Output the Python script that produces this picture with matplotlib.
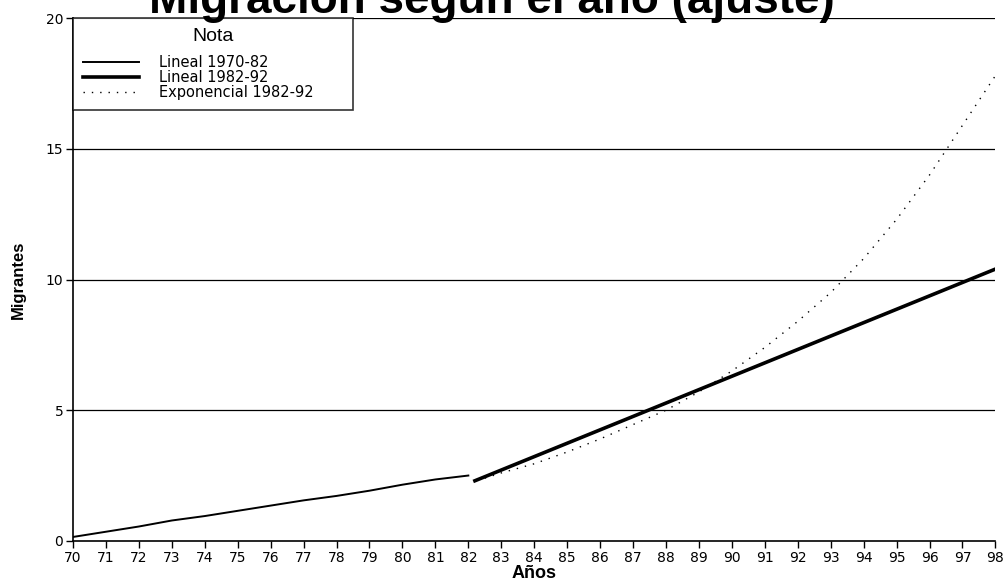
import matplotlib.pyplot as plt

# datos
anios_70_82 = [70, 71, 72, 73, 74, 75, 76, 77, 78, 79, 80, 81, 82]
lineal_70_82 = [0.15, 0.35, 0.55, 0.78, 0.95, 1.15, 1.35, 1.55, 1.72, 1.92, 2.15, 2.35, 2.5]

anios_lin_82_92 = [82.2, 98]
lineal_82_92 = [2.3, 10.4]

anios_exp = [82.5, 83, 84, 85, 86, 87, 88, 89, 90, 91, 92, 93, 94, 95, 96, 97, 98]
exponencial_82_92 = [2.4, 2.6, 2.95, 3.4, 3.9, 4.45, 5.0, 5.7, 6.5, 7.4, 8.4, 9.5, 10.8, 12.3, 14.0, 15.9, 17.8]

ticks_x = list(range(70, 99))
ticks_y = [0, 5, 10, 15, 20]

plt.rcParams['font.family'] = ['Liberation Sans', 'DejaVu Sans']

fig = plt.figure(figsize=(10.07, 5.86), dpi=100)
ax = fig.add_axes([0.0725, 0.077, 0.916, 0.892])

for y in ticks_y[1:]:
    ax.axhline(y, color='black', lw=0.9, zorder=1)

ax.plot(anios_70_82, lineal_70_82, color='black', lw=1.4, label='Lineal 1970-82')
ax.plot(anios_lin_82_92, lineal_82_92, color='black', lw=2.6, label='Lineal 1982-92')
ax.plot(anios_exp, exponencial_82_92, color='black', lw=1.0, ls=(0, (1, 5)), label='Exponencial 1982-92')

ax.set_xlim(70, 98)
ax.set_ylim(0, 20)
ax.set_xticks(ticks_x)
ax.set_yticks(ticks_y)
ax.tick_params(axis='both', direction='out', length=5, width=1, labelsize=10, pad=2)
for lbl in ax.get_xticklabels() + ax.get_yticklabels():
    lbl.set_family('DejaVu Sans')
for s in ['top', 'right']:
    ax.spines[s].set_visible(False)
ax.spines['left'].set_linewidth(1.2)
ax.spines['bottom'].set_linewidth(1.2)

ax.set_xlabel('Años', fontsize=13, fontweight='bold', labelpad=0)
ax.set_ylabel('Migrantes', fontsize=12, fontweight='bold', labelpad=14)

leg = ax.legend(title='Nota', loc='upper left', bbox_to_anchor=(0, 0.8, 0.304, 0.2),
                mode='expand', prop={'family': 'DejaVu Sans', 'size': 10.5},
                title_fontsize=14, frameon=True, fancybox=False, edgecolor='black',
                borderaxespad=0, handlelength=3.8, handletextpad=1.4, labelspacing=0.0,
                borderpad=0.7)
leg._legend_box.sep = 7
leg.get_frame().set_linewidth(1.2)

fig.text(0.488, 0.977, 'Migración según el año (ajuste)', ha='center', va='baseline',
         fontsize=33, fontweight='bold')

fig.savefig('out.png', dpi=100)
